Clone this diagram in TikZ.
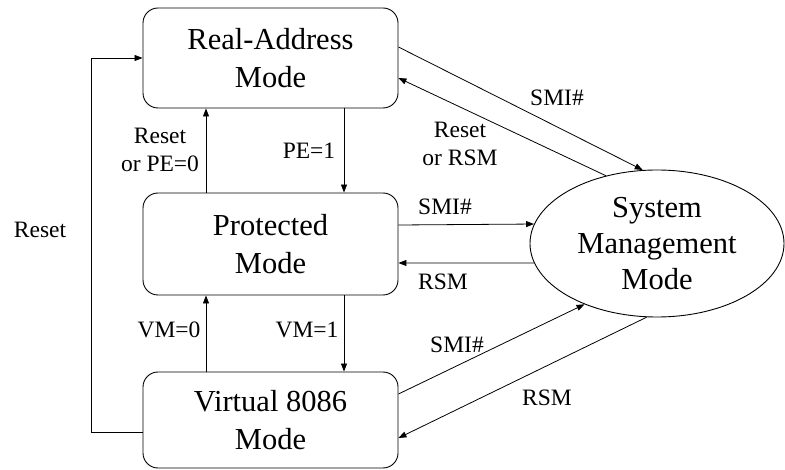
\documentclass[tikz,border=0pt]{standalone}
\usepackage{fontspec}
\setmainfont{Liberation Serif}
\usetikzlibrary{arrows.meta,shapes.geometric}
\begin{document}
\begin{tikzpicture}[x=1pt,y=-1pt,
  modebox/.style={draw,rounded corners=15pt,minimum width=255pt,inner sep=0pt,align=center,line width=0.9pt,font=\fontsize{30.5}{38}\selectfont},
  smmell/.style={draw,ellipse,minimum width=254pt,minimum height=147pt,inner sep=0pt,align=center,line width=0.9pt,font=\fontsize{30.5}{36}\selectfont},
  lbl/.style={align=center,inner sep=0pt,font=\fontsize{23.5}{28}\selectfont},
  arr/.style={line width=0.8pt,-{Triangle[length=8pt,width=6pt]}}]
\useasboundingbox (0,0) rectangle (785,470);
\node[modebox,minimum height=100pt] (real) at (270.5,58) {Real-Address\\Mode};
\node[modebox,minimum height=102pt] (prot) at (270.5,244) {Protected\\Mode};
\node[modebox,minimum height=96pt] (virt) at (270.5,420) {Virtual 8086\\Mode};
\node[smmell] (smm) at (657,243.5) {System\\Management\\Mode};
% vertical transitions
\draw[arr] ([xshift=73.5pt]real.south) -- ([xshift=73.5pt]prot.north);
\draw[arr] ([xshift=-64.5pt]prot.north) -- ([xshift=-64.5pt]real.south);
\draw[arr] ([xshift=73.5pt]prot.south) -- ([xshift=73.5pt]virt.north);
\draw[arr] ([xshift=-64.5pt]virt.north) -- ([xshift=-64.5pt]prot.south);
% reset loop
\draw[arr] ([yshift=-12pt]virt.west) -- ++(-51,0) |- (real.west);
% SMM transitions
\draw[arr] ([yshift=11pt]real.east) -- (smm.101);
\draw[arr] (smm.127) -- ([yshift=-20pt]real.east);
\draw[arr] ([yshift=19pt]prot.east) -- (smm.171.4);
\draw[arr] (smm.189) -- ([yshift=-19pt]prot.east);
\draw[arr] ([yshift=26pt]virt.east) -- (smm.220);
\draw[arr] (smm.262) -- ([yshift=-18pt]virt.east);
% labels
\node[lbl] (l1) at (160,150) {Reset\\or PE=0};
\node[lbl] (l2) at (309,151) {PE=1};
\node[lbl] (l3) at (169,330) {VM=0};
\node[lbl] (l4) at (307,330) {VM=1};
\node[lbl] (l5) at (40,230) {Reset};
\node[lbl] (l6) at (557,98) {SMI\#};
\node[lbl] (l7) at (460,143.5) {Reset\\or RSM};
\node[lbl] (l8) at (445,207) {SMI\#};
\node[lbl] (l9) at (443,282) {RSM};
\node[lbl] (l10) at (457,345) {SMI\#};
\node[lbl] (l11) at (547,398) {RSM};
\end{tikzpicture}
\end{document}
